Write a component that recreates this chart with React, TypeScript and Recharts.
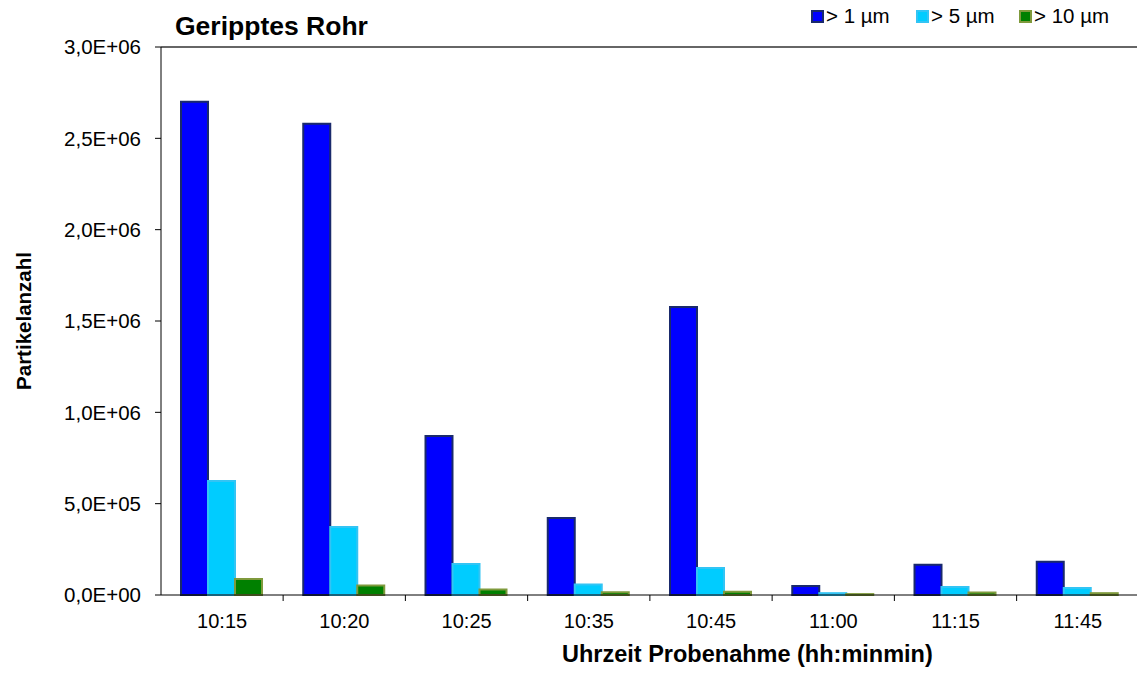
import { BarChart, Bar, XAxis, YAxis, ReferenceLine } from "recharts";

const times = ["10:15", "10:20", "10:25", "10:35", "10:45", "11:00", "11:15", "11:45"];
const over1 = [2700000, 2580000, 870000, 421000, 1576000, 49000, 165000, 182000];
const over5 = [624000, 372000, 170000, 58000, 148000, 10000, 44000, 38000];
const over10 = [88000, 52000, 30000, 15000, 18000, 5000, 14000, 10000];
const yTicks = [0, 500000, 1000000, 1500000, 2000000, 2500000, 3000000];

const data = times.map((t, i) => ({ t, a: over1[i], b: over5[i], c: over10[i] }));

const FONT = "'Liberation Sans', Arial, sans-serif";

function sci(v: number) {
  if (v === 0) return "0,0E+00";
  const e = Math.floor(Math.log10(v));
  const m = v / Math.pow(10, e);
  return m.toFixed(1).replace(".", ",") + "E+" + String(e).padStart(2, "0");
}

const XTick = (props: any) => {
  const { x, y, payload } = props;
  const half = 61;
  return (
    <g>
      <line x1={x + half} x2={x + half} y1={y} y2={y + 6} stroke="#000" />
      <text x={x} y={y + 33} textAnchor="middle" fontSize={20} fontFamily={FONT} fill="#000">
        {payload.value}
      </text>
    </g>
  );
};

const legend = [
  { label: "> 1 µm", fill: "#0000FF", stroke: "#1a2a6c", left: 811 },
  { label: "> 5 µm", fill: "#00CCFF", stroke: "#33c4f4", left: 916 },
  { label: "> 10 µm", fill: "#008000", stroke: "#7f9a3c", left: 1019 },
];

export default function App() {
  return (
    <div style={{ position: "relative", width: 1137, height: 675, fontFamily: FONT, background: "#fff", overflow: "hidden" }}>
      <style>{`body{margin:0}`}</style>
      <div style={{ position: "absolute", left: 175, top: 13, fontSize: 26.5, lineHeight: 1, fontWeight: "bold", color: "#000" }}>
        Geripptes Rohr
      </div>
      {legend.map((l) => (
        <div
          key={l.label}
          style={{
            position: "absolute",
            left: l.left,
            top: 6,
            display: "flex",
            alignItems: "center",
            fontSize: 20.5,
            lineHeight: 1,
            color: "#000",
          }}
        >
          <span
            style={{
              display: "inline-block",
              width: 9,
              height: 9,
              background: l.fill,
              border: `2px solid ${l.stroke}`,
              marginRight: 2,
            }}
          />
          {l.label}
        </div>
      ))}
      <div
        style={{
          position: "absolute",
          left: 562,
          top: 643,
          fontSize: 23.5,
          lineHeight: 1,
          fontWeight: "bold",
          color: "#000",
          whiteSpace: "nowrap",
        }}
      >
        Uhrzeit Probenahme (hh:minmin)
      </div>
      <BarChart
        width={1139}
        height={675}
        data={data}
        margin={{ top: 47, right: 0, bottom: 50, left: 0 }}
        barCategoryGap={20}
        barGap={0}
      >
        <XAxis
          dataKey="t"
          height={30}
          tick={<XTick />}
          tickLine={false}
          tickSize={0}
          tickMargin={0}
          axisLine={{ stroke: "#000" }}
          interval={0}
        />
        <YAxis
          width={161}
          domain={[0, 3000000]}
          ticks={yTicks}
          tickFormatter={sci}
          tick={{ fontSize: 20.5, fill: "#000", fontFamily: FONT }}
          tickLine={{ stroke: "#000" }}
          tickSize={6}
          tickMargin={14}
          axisLine={{ stroke: "#000" }}
          label={{
            value: "Partikelanzahl",
            angle: -90,
            position: "insideLeft",
            offset: 24,
            style: { fontSize: 20.5, fontWeight: "bold", fill: "#000", fontFamily: FONT, textAnchor: "middle" },
          }}
        />
        <ReferenceLine y={3000000} stroke="#333" strokeWidth={1.5} />
        <Bar dataKey="a" fill="#0000FF" stroke="#1a2a6c" strokeWidth={2} isAnimationActive={false} />
        <Bar dataKey="b" fill="#00CCFF" stroke="#33c4f4" strokeWidth={2} isAnimationActive={false} />
        <Bar dataKey="c" fill="#008000" stroke="#7f9a3c" strokeWidth={2} isAnimationActive={false} />
      </BarChart>
    </div>
  );
}
